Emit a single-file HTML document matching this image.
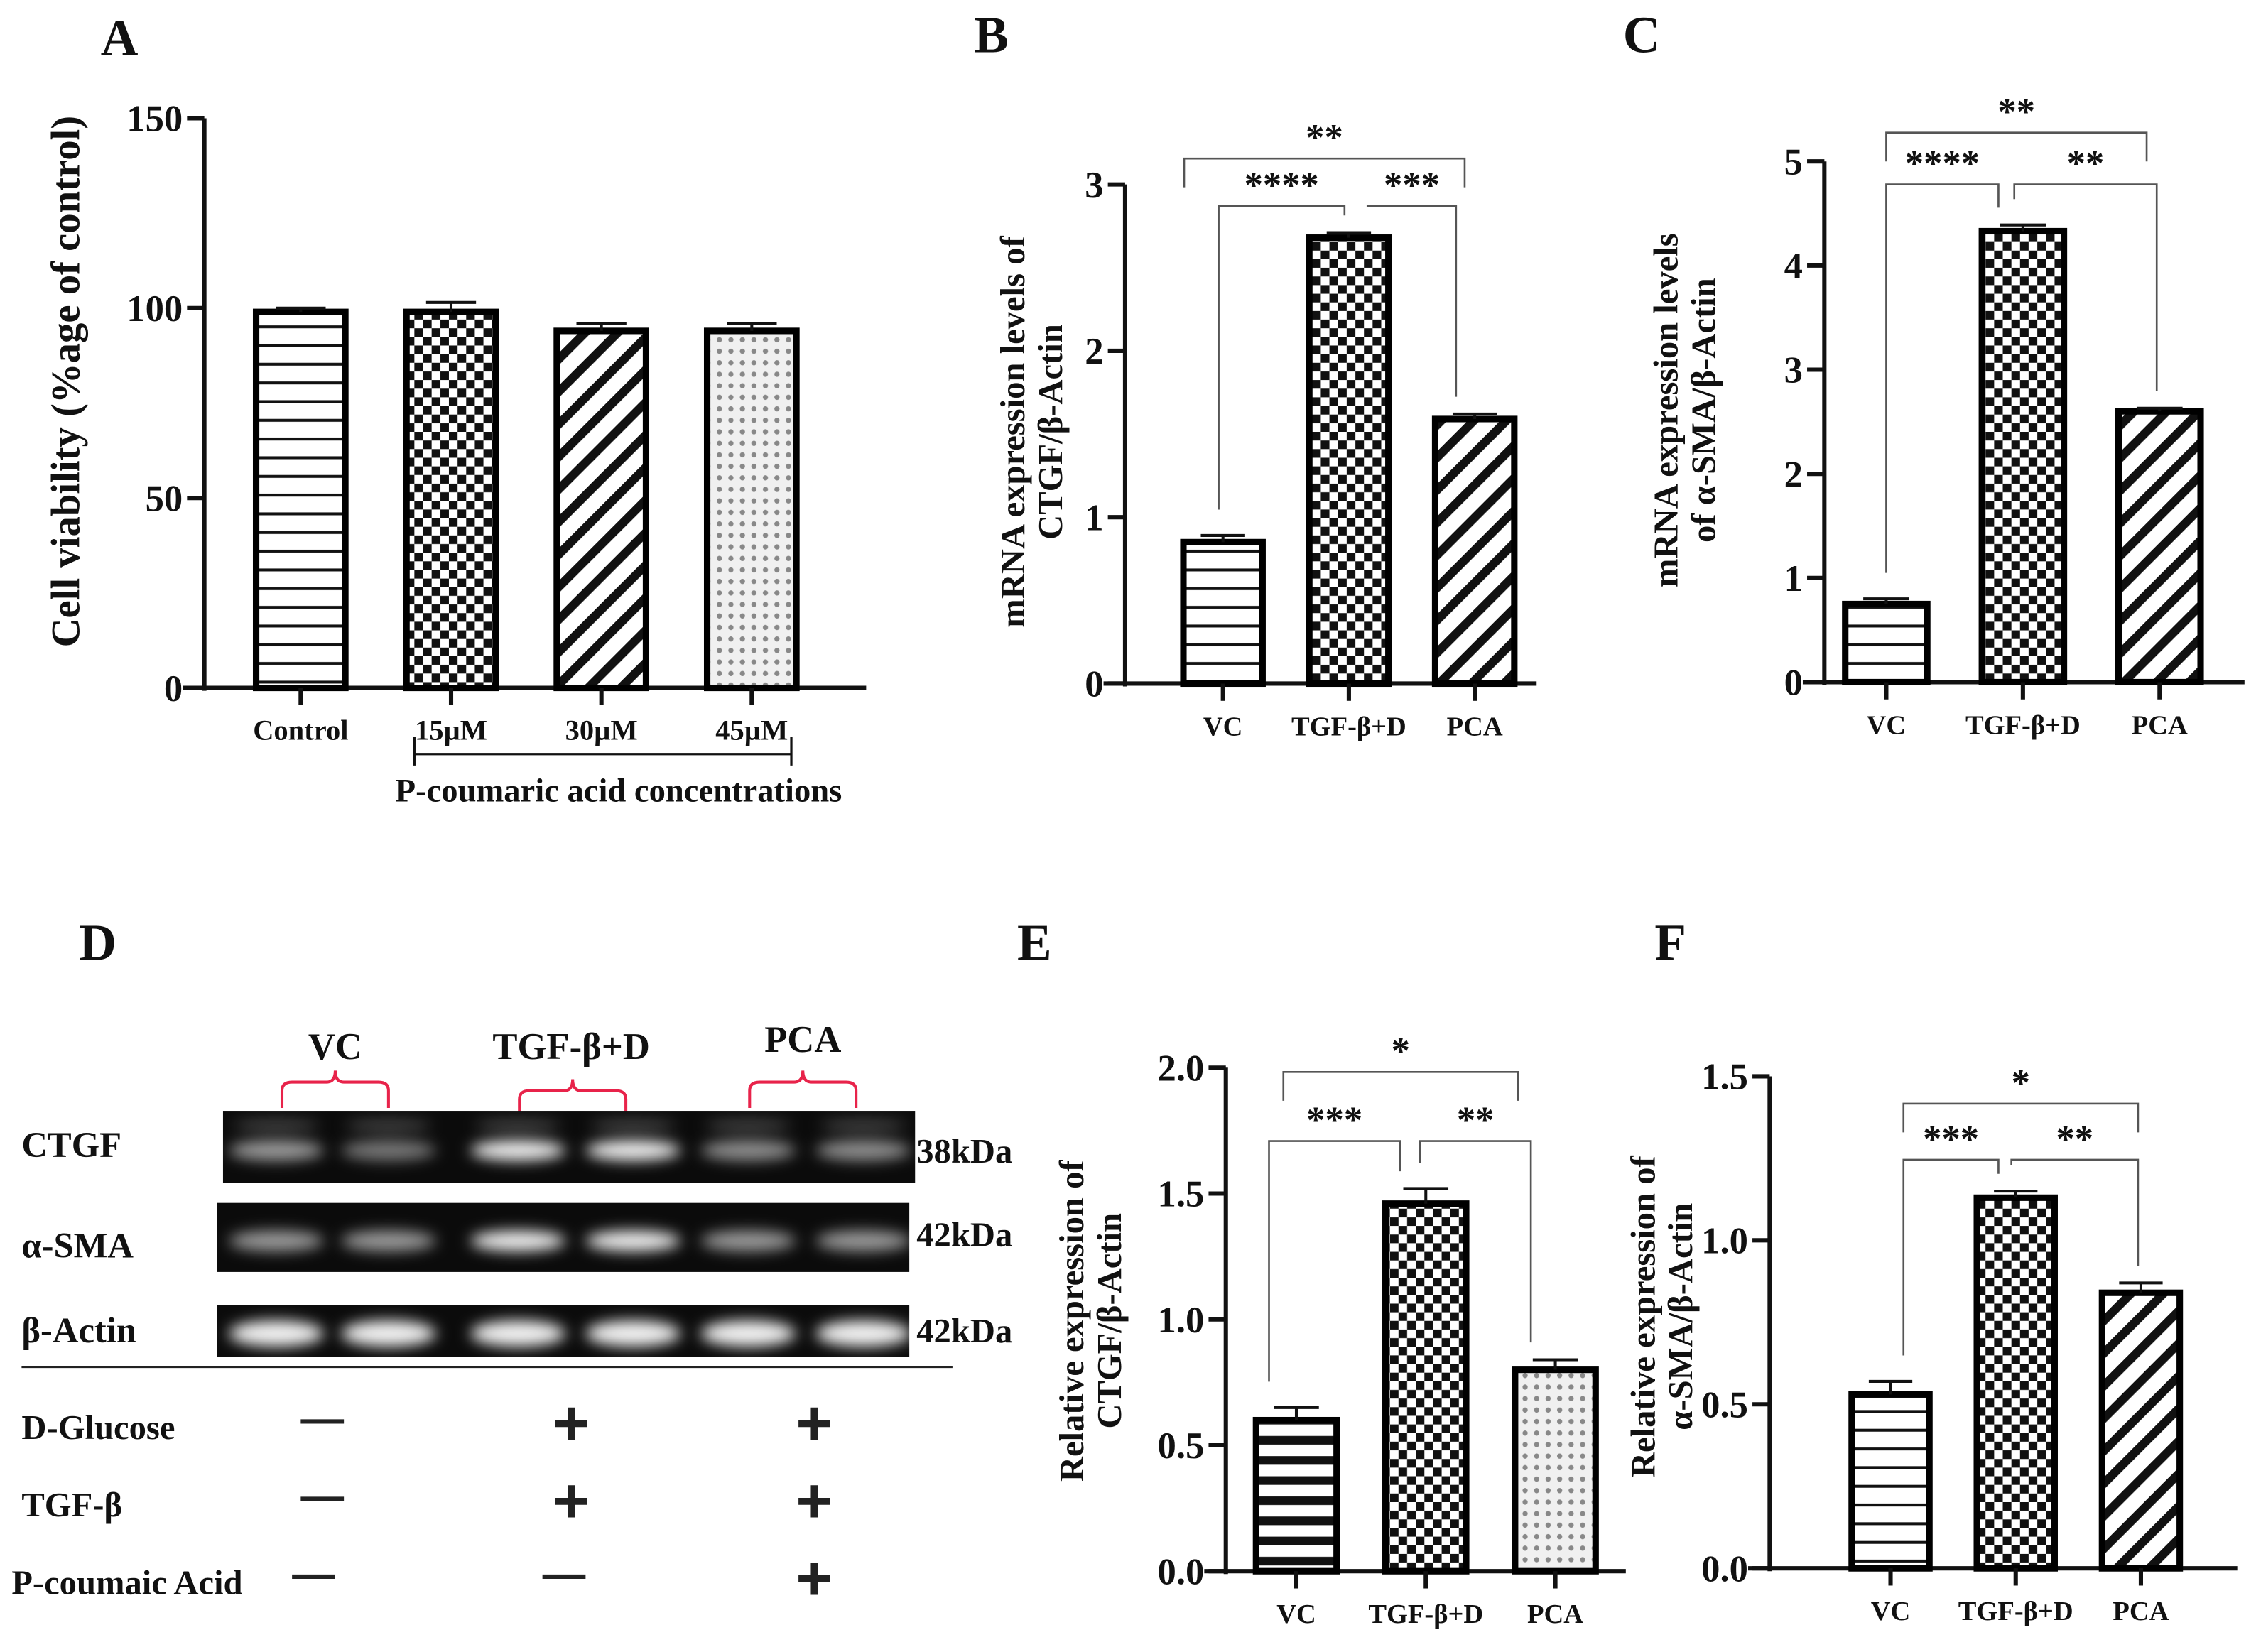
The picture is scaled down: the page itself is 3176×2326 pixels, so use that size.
<!DOCTYPE html>
<html><head><meta charset="utf-8">
<style>
html,body{margin:0;padding:0;background:#fff;}
svg{display:block;}
text{font-family:"Liberation Serif",serif;font-weight:bold;fill:#111;}
</style></head>
<body>
<svg id="fig" width="3176" height="2326" viewBox="0 0 1568 1148" xmlns="http://www.w3.org/2000/svg">
<defs>
<pattern id="pHoriz" width="10" height="13" patternUnits="userSpaceOnUse"><rect width="10" height="13" fill="#fff"/><rect y="5" width="10" height="2" fill="#111"/></pattern>
<pattern id="pHorizThick" width="10" height="14" patternUnits="userSpaceOnUse"><rect width="10" height="14" fill="#fff"/><rect y="4" width="10" height="6" fill="#111"/></pattern>
<pattern id="pCheck" width="12" height="12" patternUnits="userSpaceOnUse"><rect width="12" height="12" fill="#fff"/><rect width="6" height="6" fill="#111"/><rect x="6" y="6" width="6" height="6" fill="#111"/></pattern>
<pattern id="pDiag" width="16" height="16" patternUnits="userSpaceOnUse" patternTransform="rotate(45)"><rect width="16" height="16" fill="#fff"/><rect width="6" height="16" fill="#111"/></pattern>
<pattern id="pDots" width="8" height="8" patternUnits="userSpaceOnUse"><rect width="8" height="8" fill="#f0f0f0"/><circle cx="4" cy="4" r="1.8" fill="#888"/></pattern>
<filter id="glow" x="-50%" y="-100%" width="200%" height="300%"><feGaussianBlur stdDeviation="5"/></filter>
</defs>
<g id="panels"></g>
</svg>
<script>
// ---- Data ----
const catsA = ["Control","15µM","30µM","45µM"];
const valsA = [99, 99, 94, 94];
const errA = [1, 2.5, 2, 2];
const ticksA = [0,50,100,150];

const catsB = ["VC","TGF-β+D","PCA"];
const valsB = [0.85, 2.68, 1.59];
const errB = [0.04, 0.03, 0.03];
const ticksB = [0,1,2,3];

const catsC = ["VC","TGF-β+D","PCA"];
const valsC = [0.75, 4.33, 2.6];
const errC = [0.05, 0.06, 0.03];
const ticksC = [0,1,2,3,4,5];

const catsE = ["VC","TGF-β+D","PCA"];
const valsE = [0.6, 1.46, 0.8];
const errE = [0.05, 0.06, 0.04];
const ticksE = ["0.0","0.5","1.0","1.5","2.0"];

const catsF = ["VC","TGF-β+D","PCA"];
const valsF = [0.53, 1.13, 0.84];
const errF = [0.04, 0.02, 0.03];
const ticksF = ["0.0","0.5","1.0","1.5"];

const NS = "http://www.w3.org/2000/svg";
const root = document.getElementById("panels");
function mk(tag, attrs, parent, txt){
  const e = document.createElementNS(NS, tag);
  for (const k in attrs) e.setAttribute(k, attrs[k]);
  if (txt !== undefined) e.textContent = txt;
  (parent || root).appendChild(e);
  return e;
}

function chart(cfg){
  const g = mk("g", {});
  
  
  const ticks = cfg.ticks.map(Number);
  const ymax = ticks[ticks.length-1];
  const y = v => cfg.y0 - (v / ymax) * (cfg.y0 - cfg.yTop);
  const x = i => cfg.x0 + i * cfg.step;
  const ya = mk("line", {x1:cfg.ax, y1:y(ymax), x2:cfg.ax, y2:cfg.y0+2, stroke:"#111","stroke-width":3}, g);
  
  
  const xa = mk("line", {x1:cfg.ax-15, y1:cfg.y0, x2:cfg.axEnd, y2:cfg.y0, stroke:"#111","stroke-width":3}, g);
  
  
  cfg.ticks.forEach(t => {
    mk("line", {x1:cfg.ax-12, y1:y(+t), x2:cfg.ax, y2:y(+t), stroke:"#111","stroke-width":3}, g);
    const tl = mk("text", {x:cfg.ax-15, y:y(+t)+9, "text-anchor":"end", "font-size":cfg.tickFs||26}, g, t);
    
    
  });
  cfg.vals.forEach((v, i) => {
    const cx = x(i), w = cfg.bw;
    const bar = mk("rect", {x:cx-w/2, y:y(v), width:w, height:cfg.y0-y(v), fill:"url(#"+cfg.fills[i]+")", stroke:"#000","stroke-width":4.5}, g);
    
    
    const ey = y(v + cfg.errs[i]);
    const eb = mk("path", {d:`M${cx},${y(v)} V${ey} M${cx-w*0.28},${ey} H${cx+w*0.28}`, stroke:"#111","stroke-width":2, fill:"none"}, g);
    
    
    mk("line", {x1:cx, y1:cfg.y0, x2:cx, y2:cfg.y0+12, stroke:"#111","stroke-width":3}, g);
    const xl = mk("text", {x:cx, y:cfg.y0+36, "text-anchor":"middle", "font-size":cfg.catFs||19}, g, cfg.cats[i]);
    
    
  });
  cfg.title.forEach((line, k) => {
    const tx = cfg.titleX + k*26, ty = cfg.titleY;
    const t = mk("text", {x:tx, y:ty, "text-anchor":"middle", "font-size":cfg.titleFs||24, transform:`rotate(-90 ${tx} ${ty})`}, g, line);
    
    
  });
  (cfg.sig||[]).forEach(s => {
    const [i, j, by, lab, dx1, dx2, long] = s;
    const x1 = x(i) + dx1, x2 = x(j) + dx2;
    const l1 = long ? y(cfg.vals[i]+cfg.errs[i]) - 18 : by + 20;
    const l2 = long ? y(cfg.vals[j]+cfg.errs[j]) - 12 : by + 20;
    const b = mk("path", {d:`M${x1},${l1} V${by} H${x2} V${l2}`, stroke:"#555","stroke-width":1.3, fill:"none"}, g);
    
    
    const st = mk("text", {x:(x1+x2)/2, y:by-6, "text-anchor":"middle", "font-size":26}, g, lab);
    
    
  });
}

chart({name:"panel-a-chart", cats:catsA, vals:valsA, errs:errA, ticks:ticksA, ax:142, axEnd:602, y0:478, yTop:82,
  x0:209, step:104.5, bw:62, fills:["pHoriz","pCheck","pDiag","pDots"], title:["Cell viability (%age of control)"], titleX:55, titleY:265, titleFs:28, catFs:20});
chart({name:"panel-b-chart", cats:catsB, vals:valsB, errs:errB, ticks:ticksB, ax:782, axEnd:1068, y0:475, yTop:128,
  x0:850, step:87.5, bw:55, fills:["pHoriz","pCheck","pDiag"], title:["mRNA expression levels of","CTGF/β-Actin"], titleX:712, titleY:300,
  sig:[[0,2,110,"**",-27,-7,false],[0,1,143,"****",-3,-3,true],[1,2,143,"***",13,-13,true]]});
chart({name:"panel-c-chart", cats:catsC, vals:valsC, errs:errC, ticks:ticksC, ax:1268, axEnd:1560, y0:474, yTop:112,
  x0:1311, step:95, bw:57, fills:["pHoriz","pCheck","pDiag"], title:["mRNA expression levels","of α-SMA/β-Actin"], titleX:1166, titleY:285,
  sig:[[0,2,92,"**",0,-9,false],[0,1,128,"****",0,-17,true],[1,2,128,"**",-6,-2,true]]});
chart({name:"panel-e-chart", cats:catsE, vals:valsE, errs:errE, ticks:ticksE, ax:852, axEnd:1130, y0:1092, yTop:742,
  x0:901, step:90, bw:56, fills:["pHorizThick","pCheck","pDots"], title:["Relative expression of","CTGF/β-Actin"], titleX:753, titleY:918,
  sig:[[0,2,745,"*",-9,-26,false],[0,1,793,"***",-19,-18,true],[1,2,793,"**",-4,-17,true]]});
chart({name:"panel-f-chart", cats:catsF, vals:valsF, errs:errF, ticks:ticksF, ax:1230, axEnd:1555, y0:1090, yTop:748,
  x0:1314, step:87, bw:54, fills:["pHoriz","pCheck","pDiag"], title:["Relative expression of","α-SMA/β-Actin"], titleX:1150, titleY:915,
  sig:[[0,2,767,"*",9,-2,false],[0,1,806,"***",9,-12,true],[1,2,806,"**",-3,-2,true]]});

const gb = mk("path", {d:"M288,512 V532 M288,524 H550 M550,512 V532", stroke:"#111","stroke-width":1.6, fill:"none"});


const gl = mk("text", {x:430, y:557, "text-anchor":"middle", "font-size":23}, root, "P-coumaric acid concentrations");



[["A",70,38],["B",677,36],["C",1128,36],["D",55,667],["E",707,667],["F",1150,667]].forEach(p => {
  const t = mk("text", {x:p[1], y:p[2], "font-size":36}, root, p[0]);
  
  
});

// ---- Western blot (panel D) ----
const groupsD = ["VC","TGF-β+D","PCA"];
const groupX = [233, 397, 558];
const blotRows = ["CTGF","α-SMA","β-Actin"];
const blotKda = ["38kDa","42kDa","42kDa"];
const bandIntensity = [[0.6,0.45,0.95,0.95,0.55,0.55],[0.6,0.6,0.95,0.95,0.6,0.6],[0.95,0.95,0.95,0.95,0.95,0.95]];
const blotBox = [[155,772,481,50],[151,836,481,48],[151,907,481,36]];
const laneX = [192,270,360,440,520,600];

groupsD.forEach((gname, i) => {
  const t = mk("text", {x:groupX[i], y:i===2?731:736, "text-anchor":"middle", "font-size":26}, root, gname);
  
  
  const gx = groupX[i] + (i===1?1:0);
  const yb = i===1 ? 758 : 752;
  const br = mk("path", {d:`M${gx-37},${yb+18} V${yb+6} Q${gx-37},${yb} ${gx-30},${yb} H${gx-6} Q${gx},${yb} ${gx},${yb-8} Q${gx},${yb} ${gx+6},${yb} H${gx+30} Q${gx+37},${yb} ${gx+37},${yb+6} V${yb+18}`, stroke:"#e8234a","stroke-width":2, fill:"none"});
  
  
});
blotRows.forEach((r, k) => {
  const [bx, by, bw, bh] = blotBox[k];
  const blot = mk("rect", {x:bx, y:by, width:bw, height:bh, fill:"#0b0b0b"});
  
  
  bandIntensity[k].forEach((v, i) => {
    const band = mk("ellipse", {cx:laneX[i], cy:by + bh*0.55, rx:33, ry:k===2?9:7, fill:`rgba(255,255,255,${v})`, filter:"url(#glow)"});
    
    
  });
  if (k===0) laneX.forEach(lx => { mk("ellipse", {cx:lx, cy:by+10, rx:30, ry:4, fill:"rgba(255,255,255,0.25)", filter:"url(#glow)"}); });
  const lab = mk("text", {x:15, y:[804,874,933][k], "font-size":25}, root, r);
  
  
  const kd = mk("text", {x:637, y:[808,866,933][k], "font-size":24}, root, blotKda[k]);
  
  
});
const sep = mk("line", {x1:15, y1:950, x2:662, y2:950, stroke:"#222","stroke-width":1.5});



const treatRows = ["D-Glucose","TGF-β","P-coumaic Acid"];
const treatSigns = [["—","+","+"],["—","+","+"],["—","—","+"]];
const treatY = [1000, 1054, 1108];
const signX = [224, 397, 566];
treatRows.forEach((r, k) => {
  const t = mk("text", {x:k===2?8:15, y:treatY[k], "font-size":24}, root, r);
  
  
  treatSigns[k].forEach((s, i) => {
    let sx = signX[i]; if (k===2 && i===0) sx = 218; if (k===2 && i===1) sx = 392;
    const sg = mk("text", {x:sx, y:treatY[k] + (s==="+"?4:-4), "text-anchor":"middle", "font-size":s==="+"?44:30, style:"font-family:'Liberation Sans',sans-serif;fill:#222"}, root, s);
    
    
  });
});
</script>
</body></html>
